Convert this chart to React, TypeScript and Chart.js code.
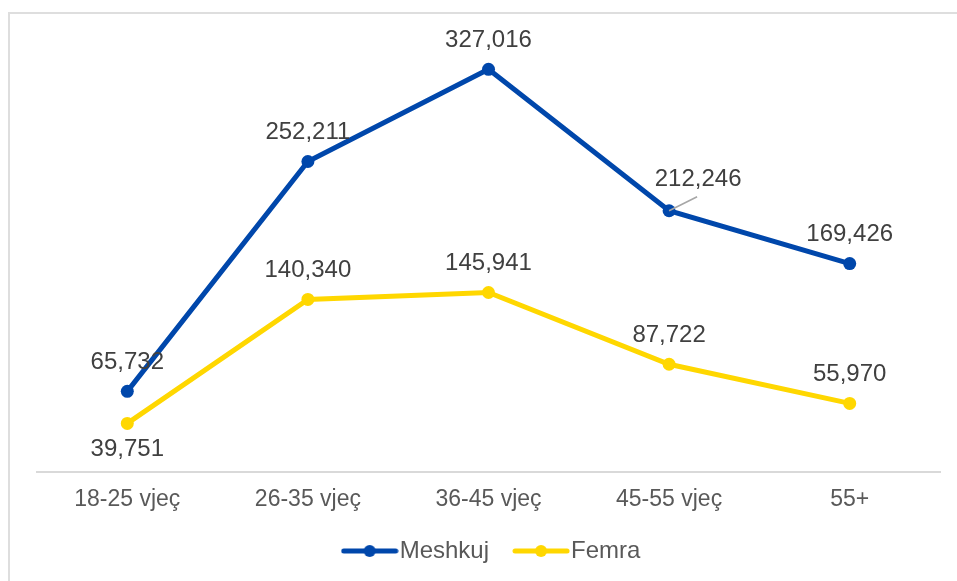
import { useEffect, useRef } from "react";
import { Chart, registerables } from "chart.js";

Chart.register(...registerables);

const categories = ["18-25 vjeç", "26-35 vjeç", "36-45 vjeç", "45-55 vjeç", "55+"];
const seriesNames = ["Meshkuj", "Femra"];
const meshkujValues = [65732, 252211, 327016, 212246, 169426];
const femraValues = [39751, 140340, 145941, 87722, 55970];

const BLUE = "#0047AB";
const YELLOW = "#FFD700";
const FONT = "'Liberation Sans', Arial, sans-serif";

function legendIcon(color: string): HTMLCanvasElement {
  const c = document.createElement("canvas");
  c.width = 58;
  c.height = 14;
  const ctx = c.getContext("2d")!;
  ctx.strokeStyle = color;
  ctx.lineWidth = 5;
  ctx.lineCap = "round";
  ctx.beginPath();
  ctx.moveTo(3, 7);
  ctx.lineTo(55, 7);
  ctx.stroke();
  ctx.fillStyle = color;
  ctx.beginPath();
  ctx.arc(29, 7, 6, 0, Math.PI * 2);
  ctx.fill();
  return c;
}

const dataLabelPlugin = {
  id: "dataLabels",
  afterDatasetsDraw(chart: any, _args: any, opts: any) {
    const ctx = chart.ctx;
    ctx.save();
    ctx.font = `24px ${FONT}`;
    ctx.fillStyle = "#404040";
    ctx.textAlign = "center";
    ctx.textBaseline = "middle";
    chart.data.datasets.forEach((ds: any, di: number) => {
      const meta = chart.getDatasetMeta(di);
      meta.data.forEach((pt: any, i: number) => {
        const v = ds.data[i] as number;
        const special = (opts.special || []).find((s: any) => s.ds === di && s.i === i);
        const dx = special ? special.dx : 0;
        const dy = special ? special.dy : -29;
        if (special && special.leader) {
          ctx.save();
          ctx.strokeStyle = "#a6a6a6";
          ctx.lineWidth = 1.5;
          ctx.beginPath();
          ctx.moveTo(pt.x, pt.y);
          ctx.lineTo(pt.x + special.leader[0], pt.y + special.leader[1]);
          ctx.stroke();
          ctx.restore();
        }
        ctx.fillText(v.toLocaleString("en-US"), pt.x + dx, pt.y + dy);
      });
    });
    ctx.restore();
  },
};

// nudges the legend box after layout (does not affect the plot area)
const legendShiftPlugin = {
  id: "legendShift",
  afterLayout(chart: any, _args: any, opts: any) {
    const lg = chart.legend;
    if (!lg) return;
    lg.left += opts.dx;
    lg.right += opts.dx;
    lg.top += opts.dy;
    lg.bottom += opts.dy;
  },
};

export default function App() {
  const ref = useRef<HTMLCanvasElement | null>(null);

  useEffect(() => {
    if (!ref.current) return;
    const icons = [legendIcon(BLUE), legendIcon(YELLOW)];
    const chart = new Chart(ref.current, {
      type: "line",
      data: {
        labels: categories,
        datasets: [
          {
            label: seriesNames[0],
            data: meshkujValues,
            borderColor: BLUE,
            backgroundColor: BLUE,
            borderWidth: 5,
            pointRadius: 6.5,
            pointBorderWidth: 0,
            pointBackgroundColor: BLUE,
            tension: 0,
          },
          {
            label: seriesNames[1],
            data: femraValues,
            borderColor: YELLOW,
            backgroundColor: YELLOW,
            borderWidth: 5,
            pointRadius: 6.5,
            pointBorderWidth: 0,
            pointBackgroundColor: YELLOW,
            tension: 0,
          },
        ],
      },
      options: {
        animation: false,
        responsive: false,
        maintainAspectRatio: false,
        layout: { padding: { left: 37, right: 17, top: 20, bottom: -13 } },
        scales: {
          x: {
            offset: true,
            grid: { display: false, drawTicks: false },
            border: { display: true, color: "#d9d9d9", width: 2 },
            ticks: { font: { family: FONT, size: 23 }, color: "#595959", padding: 13 },
          },
          y: { display: false, min: 0, max: 367000 },
        },
        plugins: {
          legend: {
            position: "bottom",
            labels: {
              usePointStyle: true,
              pointStyleWidth: 36,
              padding: 34,
              font: { family: FONT, size: 24 },
              color: "#595959",
              generateLabels: (chart: any) =>
                Chart.defaults.plugins.legend.labels
                  .generateLabels(chart)
                  .map((l: any, idx: number) => ({ ...l, pointStyle: icons[idx] })),
            },
          },
          tooltip: { enabled: false },
          legendShift: { dx: 7.5, dy: -21 },
          dataLabels: {
            special: [
              { ds: 0, i: 3, dx: 29, dy: -31, leader: [28, -14] },
              { ds: 1, i: 0, dx: 0, dy: 26 },
            ],
          },
        } as any,
      },
      plugins: [dataLabelPlugin, legendShiftPlugin],
    });
    return () => chart.destroy();
  }, []);

  return (
    <div style={{ position: "fixed", left: 0, top: 0, width: 957, height: 581, background: "#fff" }}>
      <div
        style={{
          position: "absolute",
          left: 8,
          top: 12,
          width: 1000,
          height: 700,
          borderLeft: "2px solid #dedede",
          borderTop: "2px solid #dedede",
        }}
      />
      <canvas ref={ref} width={957} height={581} style={{ position: "absolute", left: 0, top: 0 }} />
    </div>
  );
}
